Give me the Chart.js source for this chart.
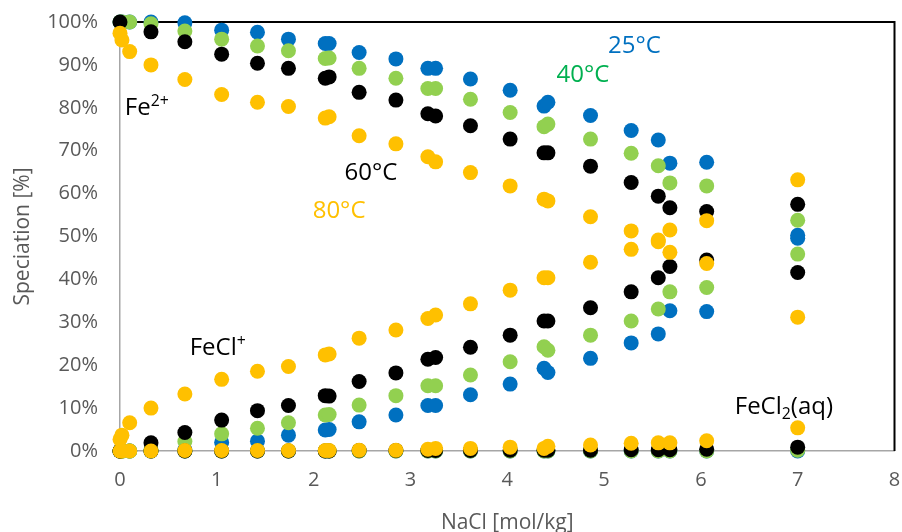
<!DOCTYPE html>
<html><head><meta charset="utf-8">
<script src="https://cdn.jsdelivr.net/npm/chart.js@4"></script>
<style>html,body{margin:0;padding:0;background:#fff}canvas{display:block}</style>
</head><body>
<canvas id="c" width="902" height="532"></canvas>
<script>
// NaCl molality [mol/kg]
const nacl = [0, 0.02, 0.1, 0.32, 0.67, 1.05, 1.42, 1.74, 2.12, 2.16, 2.47, 2.85, 3.18, 3.26, 3.62, 4.03, 4.38, 4.42, 4.86, 5.28, 5.56, 5.68, 6.06, 7.0];

// 25°C
const fe_25   = [100, 100, 100, 100, 99.8, 98.1, 97.6, 96.0, 95.0, 95.0, 92.9, 91.4, 89.2, 89.2, 86.7, 84.1, 80.4, 81.3, 78.2, 74.7, 72.5, 67.1, 67.3, 49.6];
const fecl_25 = [0, 0, 0, 0, 0.3, 2.0, 2.3, 3.7, 4.9, 5.0, 6.8, 8.4, 10.6, 10.6, 13.1, 15.6, 19.3, 18.3, 21.6, 25.2, 27.3, 32.7, 32.5, 50.3];
const fecl2_25= [0, 0, 0, 0, 0, 0, 0, 0, 0, 0, 0, 0, 0, 0, 0, 0, 0, 0, 0, 0, 0, 0, 0, 0];
// 40°C
const fe_40   = [100, 100, 100, 99.6, 97.9, 96.0, 94.4, 93.3, 91.5, 91.6, 89.2, 86.9, 84.5, 84.5, 82.0, 78.9, 75.6, 76.2, 72.7, 69.4, 66.5, 62.5, 61.8, 45.9];
const fecl_40 = [0, 0, 0, 0.4, 2.2, 4.0, 5.3, 6.6, 8.4, 8.5, 10.7, 12.9, 15.2, 15.2, 17.7, 20.8, 24.3, 23.5, 27.0, 30.3, 33.1, 37.1, 38.1, 53.8];
const fecl2_40= [0, 0, 0, 0, 0, 0, 0, 0, 0, 0, 0, 0, 0, 0, 0, 0, 0, 0, 0, 0, 0, 0, 0, 0.2];
// 60°C
const fe_60   = [100, null, null, 97.7, 95.4, 92.5, 90.4, 89.2, 86.9, 87.2, 83.6, 81.8, 78.6, 78.1, 75.8, 72.7, 69.5, 69.5, 66.4, 62.6, 59.4, 56.7, 55.8, 41.6];
const fecl_60 = [0, null, null, 1.9, 4.3, 7.2, 9.4, 10.6, 12.9, 12.8, 16.2, 18.2, 21.4, 21.8, 24.2, 27.0, 30.3, 30.3, 33.4, 37.1, 40.4, 43.0, 44.5, 57.5];
const fecl2_60= [0, null, null, 0, 0, 0, 0, 0, 0, 0, 0.1, 0.1, 0.1, 0.1, 0.1, 0.2, 0.2, 0.2, 0.2, 0.3, 0.3, 0.3, 0.4, 0.9];
// 80°C
const fe_80   = [97.4, 95.8, 93.1, 90.0, 86.6, 83.1, 81.3, 80.3, 77.6, 77.9, 73.5, 71.6, 68.6, 67.4, 64.9, 61.8, 58.7, 58.3, 54.6, 51.3, 49.2, 46.3, 43.7, 31.2];
const fecl_80 = [2.7, 3.7, 6.6, 10.0, 13.3, 16.7, 18.6, 19.7, 22.4, 22.6, 26.3, 28.2, 30.9, 31.7, 34.3, 37.5, 40.4, 40.4, 44.0, 47.0, 48.8, 51.5, 53.7, 63.2];
const fecl2_80= [0, 0, 0, 0, 0.1, 0.1, 0.1, 0.1, 0.1, 0.1, 0.2, 0.2, 0.4, 0.6, 0.6, 0.9, 0.6, 1.1, 1.4, 1.8, 1.9, 1.9, 2.4, 5.4];

const temperatures = ['25°C', '40°C', '60°C', '80°C'];
const species = ['Fe2+', 'FeCl+', 'FeCl2(aq)'];
const seriesValues = [
  [fe_25, fecl_25, fecl2_25],
  [fe_40, fecl_40, fecl2_40],
  [fe_60, fecl_60, fecl2_60],
  [fe_80, fecl_80, fecl2_80]
];
const xTickLabels = ['0','1','2','3','4','5','6','7','8'];
const yTickLabels = ['0%','10%','20%','30%','40%','50%','60%','70%','80%','90%','100%'];

const colors = ['#0070C0', '#92D050', '#000000', '#FFC000'];
const FONT = '"Open Sans", "Liberation Sans", sans-serif';

const datasets = [];
seriesValues.forEach((group, ti) => {
  group.forEach((vals, si) => {
    datasets.push({
      label: temperatures[ti] + ' ' + species[si],
      data: nacl.map((x, i) => vals[i] === null ? null : { x: x, y: vals[i] }).filter(p => p),
      backgroundColor: colors[ti],
      borderColor: colors[ti],
      pointRadius: 7.5,
      pointHoverRadius: 7.5,
      pointBorderWidth: 0,
      showLine: false,
      clip: false,
      order: 3 - ti
    });
  });
});

// text annotations in data coordinates
const annotations = [
  { x: 0.05, y: 78.3, color: '#000000', parts: [['Fe', 0], ['2+', 1]] },
  { x: 2.32, y: 63.2, color: '#000000', parts: [['60°C', 0]] },
  { x: 1.99, y: 54.3, color: '#FFC000', parts: [['80°C', 0]] },
  { x: 5.04, y: 92.8, color: '#0070C0', parts: [['25°C', 0]] },
  { x: 4.51, y: 86.0, color: '#00B050', parts: [['40°C', 0]] },
  { x: 0.72, y: 22.4, color: '#000000', parts: [['FeCl', 0], ['+', 1]] },
  { x: 6.35, y: 8.6,  color: '#000000', parts: [['FeCl', 0], ['2', -1], ['(aq)', 0]] }
];
const annoSize = 24;

const framePlugin = {
  id: 'frame',
  beforeDatasetsDraw(chart) {
    const { ctx, chartArea: a } = chart;
    ctx.save();
    ctx.strokeStyle = '#000000';
    ctx.lineWidth = 2;
    ctx.beginPath();
    ctx.moveTo(a.left, a.top);
    ctx.lineTo(a.right, a.top);
    ctx.lineTo(a.right, a.bottom);
    ctx.stroke();
    ctx.restore();
  },
  afterDatasetsDraw(chart) {
    const { ctx, scales: { x, y } } = chart;
    ctx.save();
    ctx.textBaseline = 'alphabetic';
    ctx.textAlign = 'left';
    annotations.forEach(a => {
      let px = x.getPixelForValue(a.x);
      const py = y.getPixelForValue(a.y);
      ctx.fillStyle = a.color;
      a.parts.forEach(([t, s]) => {
        const size = s === 0 ? annoSize : annoSize * 0.66;
        ctx.font = size + 'px ' + FONT;
        const dy = s === 1 ? -annoSize * 0.36 : (s === -1 ? annoSize * 0.2 : 0);
        ctx.fillText(t, px, py + dy);
        px += ctx.measureText(t).width;
      });
    });
    ctx.restore();
  }
};

new Chart(document.getElementById('c'), {
  type: 'scatter',
  data: { datasets },
  options: {
    responsive: false,
    animation: false,
    events: [],
    layout: { padding: { top: 22, right: 7, left: 0, bottom: 0 } },
    plugins: { legend: { display: false }, tooltip: { enabled: false } },
    scales: {
      x: {
        type: 'linear', min: 0, max: 8,
        afterFit: s => { s.height = 81; s.paddingLeft = 0; s.paddingRight = 0; },
        grid: { display: false, drawTicks: false },
        border: { display: true, color: '#A6A6A6', width: 1.5 },
        ticks: { stepSize: 1, padding: 17, color: '#595959', font: { size: 20, family: FONT },
                 callback: (v) => xTickLabels[v] },
        title: { display: true, text: 'NaCl [mol/kg]', color: '#595959', font: { size: 21, family: FONT }, padding: { top: 0, bottom: -4 } }
      },
      y: {
        type: 'linear', min: 0, max: 100,
        afterFit: s => { s.width = 120; s.paddingTop = 0; s.paddingBottom = 0; },
        grid: { display: false, drawTicks: false },
        border: { display: true, color: '#A6A6A6', width: 1.5 },
        ticks: { stepSize: 10, padding: 22, color: '#595959', font: { size: 20, family: FONT },
                 callback: (v) => yTickLabels[Math.round(v / 10)] },
        title: { display: true, text: 'Speciation [%]', color: '#595959', font: { size: 21, family: FONT }, padding: { top: 10, bottom: 0 } }
      }
    }
  },
  plugins: [framePlugin]
});
</script>
</body></html>
